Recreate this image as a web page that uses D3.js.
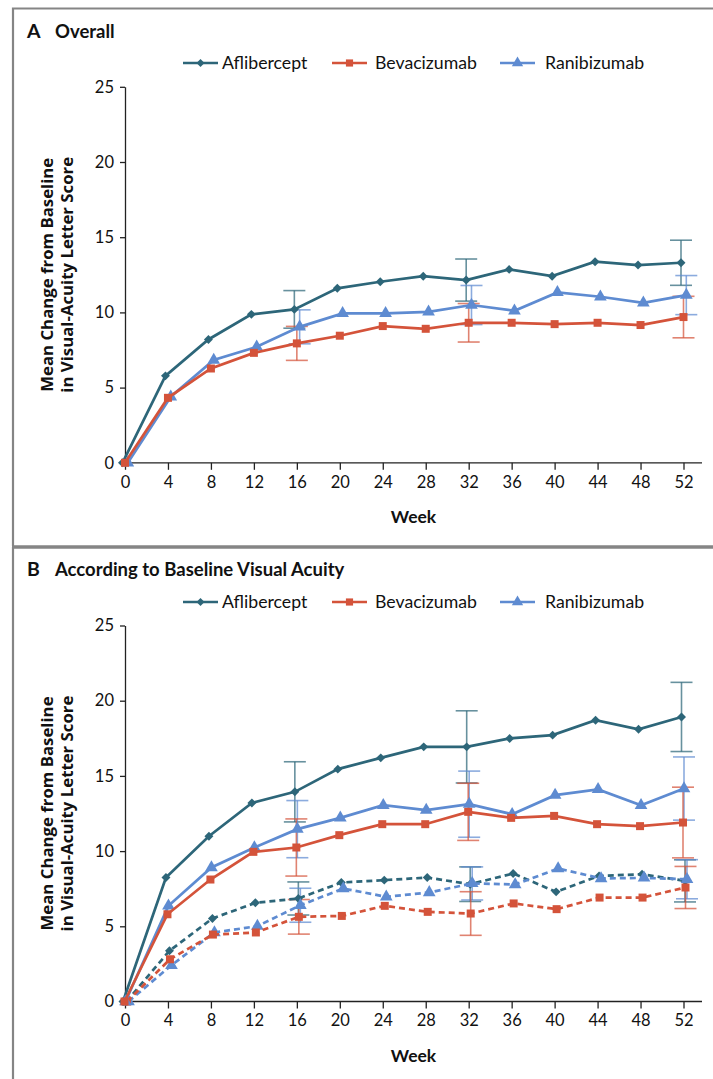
<!DOCTYPE html>
<html>
<head>
<meta charset="utf-8">
<script src="https://cdn.jsdelivr.net/npm/d3@7"></script>
<style>
  html, body { margin: 0; padding: 0; background: #fff; }
  svg { display: block; }
  text { font-family: Lato, "Open Sans", sans-serif; fill: #111; }
</style>
</head>
<body>
<svg id="chart" width="713" height="1079"></svg>
<script>
// ---------- data ----------
const weeks = [0, 4, 8, 12, 16, 20, 24, 28, 32, 36, 40, 44, 48, 52];
const errWeeks = [16, 32, 52];
const yTicks = [0, 5, 10, 15, 20, 25];
const seriesNames = ["Aflibercept", "Bevacizumab", "Ranibizumab"];

// Panel A: Overall
const aflA = [0, 5.78, 8.2, 9.87, 10.2, 11.6, 12.04, 12.41, 12.15, 12.86, 12.41, 13.37, 13.15, 13.3];
const bevA = [0, 4.32, 6.27, 7.31, 7.94, 8.45, 9.09, 8.91, 9.31, 9.31, 9.22, 9.31, 9.16, 9.69];
const ranA = [0, 4.39, 6.83, 7.71, 9.04, 9.93, 9.93, 10.04, 10.49, 10.11, 11.33, 11.04, 10.64, 11.15];
const aflAErr = [1.25, 1.4, 1.5];
const bevAErr = [1.13, 1.28, 1.38];
const ranAErr = [1.13, 1.3, 1.3];

// Panel B: According to baseline visual acuity (solid = worse baseline, dashed = better baseline)
const aflBSolid = [0, 8.24, 10.99, 13.2, 13.94, 15.45, 16.2, 16.93, 16.93, 17.49, 17.71, 18.7, 18.1, 18.92];
const bevBSolid = [0, 5.8, 8.11, 9.95, 10.24, 11.06, 11.79, 11.79, 12.61, 12.21, 12.34, 11.79, 11.66, 11.9];
const ranBSolid = [0, 6.36, 8.91, 10.24, 11.46, 12.21, 13.05, 12.72, 13.12, 12.45, 13.72, 14.1, 13.05, 14.16];
const aflBDash = [0, 3.37, 5.52, 6.56, 6.85, 7.91, 8.07, 8.24, 7.8, 8.51, 7.29, 8.35, 8.46, 8.02];
const bevBDash = [0, 2.81, 4.45, 4.59, 5.63, 5.69, 6.36, 5.96, 5.85, 6.52, 6.14, 6.91, 6.91, 7.58];
const ranBDash = [0, 2.41, 4.59, 5.01, 6.4, 7.51, 6.96, 7.25, 7.85, 7.78, 8.84, 8.18, 8.22, 8.13];
const aflBSolidErr = [2.0, 2.4, 2.3];
const bevBSolidErr = [1.9, 1.9, 2.35];
const ranBSolidErr = [1.9, 2.2, 2.1];
const aflBDashErr = [1.1, 1.15, 1.4];
const bevBDashErr = [1.15, 1.45, 1.4];
const ranBDashErr = [1.13, 1.1, 1.3];

// ---------- styles ----------
const colors = { Aflibercept: "#2d6679", Bevacizumab: "#d4533a", Ranibizumab: "#5e8bd1" };
const symbols = {
  Aflibercept: { type: d3.symbolSquare, size: 40, rotate: 45 },
  Bevacizumab: { type: d3.symbolSquare, size: 64, rotate: 0 },
  Ranibizumab: { type: d3.symbolTriangle, size: 70, rotate: 0 }
};

const svg = d3.select("#chart");
svg.append("rect").attr("width", 713).attr("height", 1079).attr("fill", "#fff");

// Frames
const frameColor = "#858585";
svg.append("path").attr("d", "M713,8.5 H13 V546").attr("fill", "none").attr("stroke", frameColor).attr("stroke-width", 2.2);
svg.append("line").attr("x1", 12).attr("x2", 713).attr("y1", 547).attr("y2", 547).attr("stroke", frameColor).attr("stroke-width", 3.5);
svg.append("line").attr("x1", 13).attr("x2", 13).attr("y1", 547).attr("y2", 1079).attr("stroke", frameColor).attr("stroke-width", 2.2);

const x = d3.scaleLinear().domain([0, 52]).range([125, 683.5]);

function drawPanel(cfg) {
  const g = svg.append("g");
  const y = d3.scaleLinear().domain([0, 25]).range([cfg.y0, cfg.y0 - 376]);

  // titles
  g.append("text").attr("x", 27).attr("y", cfg.titleY)
    .style("font-size", "19.5px").style("font-weight", 700).text(cfg.letter);
  g.append("text").attr("x", 55).attr("y", cfg.titleY)
    .style("font-size", "18.5px").style("font-weight", 700).text(cfg.title);

  // legend
  const legX = [{ l: 183, t: 222 }, { l: 332, t: 375 }, { l: 500, t: 545 }];
  seriesNames.forEach((name, i) => {
    const lg = g.append("g");
    lg.append("line").attr("x1", legX[i].l).attr("x2", legX[i].l + 35)
      .attr("y1", cfg.legY).attr("y2", cfg.legY)
      .attr("stroke", colors[name]).attr("stroke-width", 2.6);
    const s = symbols[name];
    lg.append("path")
      .attr("d", d3.symbol().type(s.type).size(s.size * 0.8)())
      .attr("transform", `translate(${legX[i].l + 17.5},${cfg.legY}) rotate(${s.rotate})`)
      .attr("fill", colors[name]);
    lg.append("text").attr("x", legX[i].t).attr("y", cfg.legY + 6)
      .style("font-size", "17.7px").text(name);
  });

  // axes
  const yAxis = d3.axisLeft(y).tickValues(yTicks).tickSize(5).tickSizeOuter(0).tickPadding(6);
  const ya = g.append("g").attr("transform", "translate(125,0)").call(yAxis);
  ya.select(".domain").attr("stroke", "#222").attr("stroke-width", 1.3);
  ya.selectAll(".tick line").attr("stroke", "#222").attr("stroke-width", 1.3);
  ya.selectAll(".tick text").style("font-size", "16.5px").style("font-family", "Lato, sans-serif").attr("fill", "#111");

  const xAxis = d3.axisBottom(x).tickValues(weeks).tickSize(7).tickSizeOuter(0).tickPadding(6);
  const xa = g.append("g").attr("transform", `translate(0,${cfg.y0})`).call(xAxis);
  xa.select(".domain").remove();
  xa.append("line").attr("x1", 125).attr("x2", 702).attr("y1", 0).attr("y2", 0)
    .attr("stroke", "#222").attr("stroke-width", 1.3);
  xa.selectAll(".tick line").attr("stroke", "#222").attr("stroke-width", 1.3);
  xa.selectAll(".tick text").style("font-size", "16.5px").style("font-family", "Lato, sans-serif").attr("fill", "#111");

  g.append("text").attr("x", 413.5).attr("y", cfg.y0 + 60)
    .attr("text-anchor", "middle").style("font-size", "17.5px").style("font-weight", 700).text("Week");

  const yc = cfg.y0 - 188;
  g.append("text").attr("transform", `translate(52.5,${yc}) rotate(-90)`)
    .attr("text-anchor", "middle").style("font-size", "16.8px").style("font-weight", 700)
    .style("font-family", "'Open Sans', sans-serif")
    .text("Mean Change from Baseline");
  g.append("text").attr("transform", `translate(72.5,${yc}) rotate(-90)`)
    .attr("text-anchor", "middle").style("font-size", "16.8px").style("font-weight", 700)
    .style("font-family", "'Open Sans', sans-serif")
    .text("in Visual-Acuity Letter Score");

  // series
  const line = d3.line();
  cfg.series.forEach(s => {
    const col = colors[s.name];
    const px = (w) => x(w) + s.dx;
    const eg = g.append("g").attr("stroke", col).attr("stroke-opacity", 0.72).attr("stroke-width", 1.6);
    errWeeks.forEach((w, i) => {
      const v = s.values[weeks.indexOf(w)];
      const e = s.err[i];
      const cx = px(w);
      eg.append("line").attr("x1", cx).attr("x2", cx).attr("y1", y(v + e)).attr("y2", y(v - e));
      eg.append("line").attr("x1", cx - 11).attr("x2", cx + 11).attr("y1", y(v + e)).attr("y2", y(v + e));
      eg.append("line").attr("x1", cx - 11).attr("x2", cx + 11).attr("y1", y(v - e)).attr("y2", y(v - e));
    });
  });
  cfg.series.forEach(s => {
    const col = colors[s.name];
    const px = (w) => x(w) + s.dx;
    const pts = weeks.map((w, i) => [px(w), y(s.values[i])]);
    g.append("path").attr("d", line(pts)).attr("fill", "none")
      .attr("stroke", col).attr("stroke-width", 2.7)
      .attr("stroke-dasharray", s.dashed ? "6,4" : null);
    const sym = symbols[s.name];
    g.append("g").selectAll("path").data(pts).join("path")
      .attr("d", d3.symbol().type(sym.type).size(sym.size)())
      .attr("transform", d => `translate(${d[0]},${d[1]}) rotate(${sym.rotate})`)
      .attr("fill", col);
  });
}

drawPanel({
  letter: "A", title: "Overall", titleY: 38, legY: 63, y0: 462.8,
  series: [
    { name: "Aflibercept", values: aflA, err: aflAErr, dx: -2.5, dashed: false },
    { name: "Ranibizumab", values: ranA, err: ranAErr, dx: 2.8, dashed: false },
    { name: "Bevacizumab", values: bevA, err: bevAErr, dx: 0, dashed: false }
  ]
});

drawPanel({
  letter: "B", title: "According to Baseline Visual Acuity", titleY: 575.5, legY: 602, y0: 1001.5,
  series: [
    { name: "Aflibercept", values: aflBDash, err: aflBDashErr, dx: 1.5, dashed: true },
    { name: "Ranibizumab", values: ranBDash, err: ranBDashErr, dx: 3.5, dashed: true },
    { name: "Bevacizumab", values: bevBDash, err: bevBDashErr, dx: 2, dashed: true },
    { name: "Aflibercept", values: aflBSolid, err: aflBSolidErr, dx: -2, dashed: false },
    { name: "Ranibizumab", values: ranBSolid, err: ranBSolidErr, dx: 0.5, dashed: false },
    { name: "Bevacizumab", values: bevBSolid, err: bevBSolidErr, dx: -0.5, dashed: false }
  ]
});
</script>
</body>
</html>
